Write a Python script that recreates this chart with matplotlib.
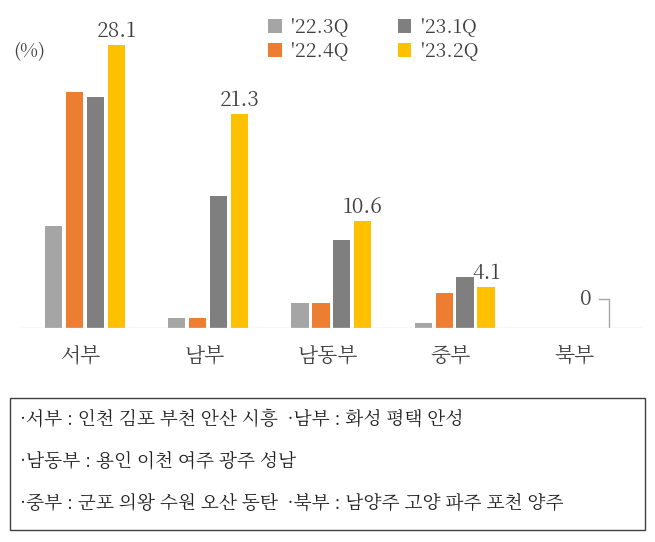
import matplotlib.pyplot as plt
import numpy as np
from matplotlib import font_manager
from matplotlib.patches import Rectangle

# pick whatever CJK family matplotlib actually registered
cjk = [f.name for f in font_manager.fontManager.ttflist if "CJK" in f.name]
kr = [n for n in cjk if "KR" in n]
plt.rcParams["font.family"] = (kr or cjk or ["DejaVu Sans"])[:1] + ["DejaVu Sans"]

regions = ["서부", "남부", "남동부", "중부", "북부"]
series_names = ["'22.3Q", "'22.4Q", "'23.1Q", "'23.2Q"]
q22_3 = [10.1, 1.0, 2.5, 0.5, 0]
q22_4 = [23.4, 1.0, 2.5, 3.5, 0]
q23_1 = [22.9, 13.1, 8.7, 5.1, 0]
q23_2 = [28.1, 21.3, 10.6, 4.1, 0]
colors = ["#A5A5A5", "#ED7D31", "#7F7F7F", "#FFC000"]
notes = ["·서부 : 인천 김포 부천 안산 시흥  ·남부 : 화성 평택 안성",
         "·남동부 : 용인 이천 여주 광주 성남",
         "·중부 : 군포 의왕 수원 오산 동탄  ·북부 : 남양주 고양 파주 포천 양주"]

fig = plt.figure(figsize=(6.55, 5.42), dpi=100)
ax = fig.add_axes([0.03, 0.395, 0.95, 0.557])

x = np.arange(len(regions))
w = 0.14
step = 0.17
for i, vals in enumerate([q22_3, q22_4, q23_1, q23_2]):
    ax.bar(x + (i - 1.5) * step + 0.03, vals, w, color=colors[i], label=series_names[i])

for xi, v in zip(x, q23_2):
    if v > 0:
        ax.text(xi + 1.5 * step + 0.03, v + 0.3, f"{v}", ha="center", va="bottom",
                fontsize=15, color="#404040")
# zero label with leader line for 북부
xb = x[-1] + 1.5 * step + 0.03
ax.plot([xb - 0.08, xb, xb], [2.9, 2.9, 0.1], color="#A5A5A5", lw=1)
ax.text(xb - 0.14, 2.9, "0", ha="right", va="center", fontsize=15, color="#404040")

ax.set_xlim(-0.5, 4.55)
ax.set_ylim(0, 30)
ax.axhline(0, color="#D9D9D9", lw=1)
for s in ax.spines.values():
    s.set_visible(False)
ax.set_yticks([])
ax.set_xticks(x)
ax.set_xticklabels(regions, fontsize=15, color="#404040")
ax.tick_params(axis="x", length=0, pad=12)

fig.text(0.02, 0.895, "(%)", fontsize=14, color="#404040")
fig.legend(loc="upper center", bbox_to_anchor=(0.57, 1.0), ncol=2, frameon=False,
           fontsize=14, handlelength=0.7, handleheight=0.7, columnspacing=2.5,
           labelspacing=0.2, handletextpad=0.5, labelcolor="#404040")

fig.patches.append(Rectangle((0.015, 0.022), 0.97, 0.243, transform=fig.transFigure,
                             fill=False, edgecolor="#404040", lw=1))
for i, t in enumerate(notes):
    fig.text(0.03, 0.225 - i * 0.077, t, fontsize=13.5, va="center", color="#222222")

fig.savefig("out.png", dpi=100)
